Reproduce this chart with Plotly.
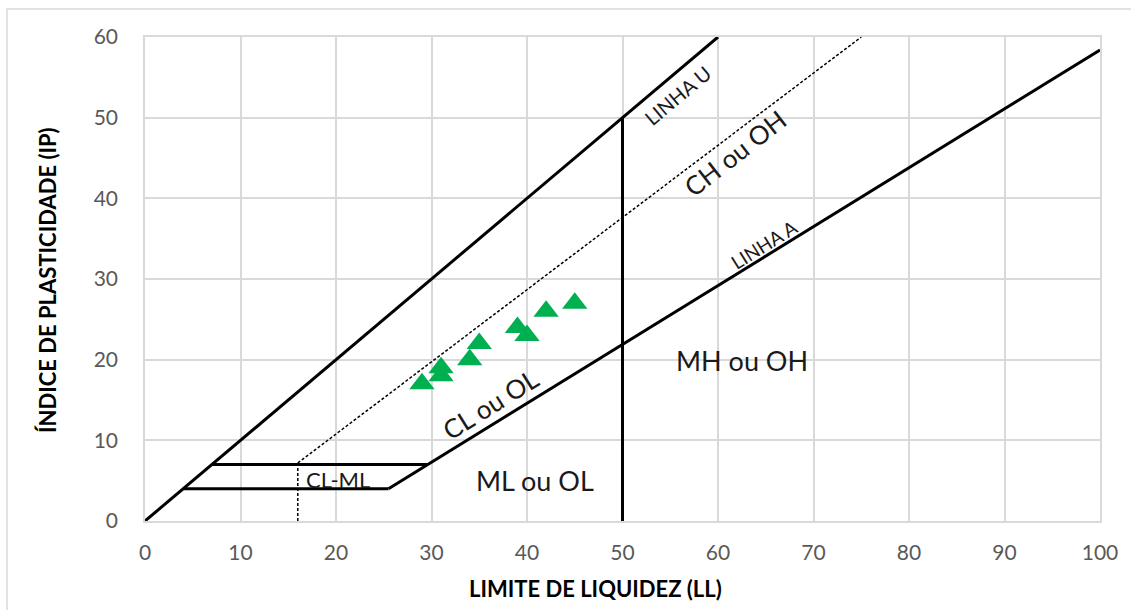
import plotly.graph_objects as go

# Soil samples: liquid limit (LL) and plasticity index (IP)
sample_ll = [29, 31, 31, 34, 35, 39, 40, 42, 45]
sample_ip = [17, 18, 19, 20, 22, 24, 23, 26, 27]

# Boundary lines of the plasticity chart
upper_x, upper_y = [0, 60], [0, 60]
u_line_x, u_line_y = [16, 75], [7.2, 60]
u_stub_x, u_stub_y = [16, 16], [0, 7.2]
a_line_x, a_line_y = [25.5, 100], [4, 58.4]
band_top_x, band_top_y = [7, 29.6], [7, 7]
band_bot_x, band_bot_y = [4, 25.5], [4, 4]
ll50_x, ll50_y = [50, 50], [0, 50]

x_ticks = [0, 10, 20, 30, 40, 50, 60, 70, 80, 90, 100]
y_ticks = [0, 10, 20, 30, 40, 50, 60]

W, H = 1131, 610
ML, MR, MT, MB = 145, 31, 37, 89
PW, PH = W - ML - MR, H - MT - MB

def px(x):
    return (x - ML) / PW

def py(y):
    return (H - MB - y) / PH

FONT = "Lato, 'Open Sans', 'Liberation Sans', sans-serif"

fig = go.Figure()

solid = dict(color="black", width=3)
for xs, ys in [(upper_x, upper_y), (a_line_x, a_line_y), (band_top_x, band_top_y),
               (band_bot_x, band_bot_y), (ll50_x, ll50_y)]:
    fig.add_trace(go.Scatter(x=xs, y=ys, mode="lines", line=solid,
                             hoverinfo="skip", showlegend=False))

dashed = dict(color="black", width=1.5, dash="3px,2px")
for xs, ys in [(u_line_x, u_line_y), (u_stub_x, u_stub_y)]:
    fig.add_trace(go.Scatter(x=xs, y=ys, mode="lines", line=dashed,
                             hoverinfo="skip", showlegend=False))

fig.add_trace(go.Scatter(
    x=sample_ll, y=sample_ip, mode="markers",
    marker=dict(symbol="triangle-up", size=22, color="#00B050"),
    showlegend=False,
))

labels = [
    ("LINHA U", 55.8, 52.8, -40, 20),
    ("CH ou OH", 61.8, 45.6, -38, 26),
    ("LINHA A", 64.8, 34.3, -32, 19),
    ("MH ou OH", 62.5, 19.9, 0, 27),
    ("CL ou OL", 36.2, 14.5, -32, 26),
    ("ML ou OL", 40.8, 5.0, 0, 27),
    ("CL-ML", 20.2, 5.2, 0, 22),
]
for text, x, y, ang, size in labels:
    fig.add_annotation(x=x, y=y, text=text, showarrow=False, textangle=ang,
                       font=dict(family=FONT, size=size, color="#1a1a1a"),
                       xanchor="center", yanchor="middle")

fig.add_annotation(x=px(595), y=py(588), xref="paper", yref="paper",
                   xanchor="center", yanchor="middle",
                   text="<b>LIMITE DE LIQUIDEZ (LL)</b>", showarrow=False,
                   font=dict(family=FONT, size=22, color="black"))
fig.add_annotation(x=px(47), y=py(280), xref="paper", yref="paper",
                   xanchor="center", yanchor="middle",
                   text="<b>ÍNDICE DE PLASTICIDADE (IP)</b>", showarrow=False,
                   textangle=-90,
                   font=dict(family=FONT, size=22, color="black"))

# Outer frame of the chart area
fig.add_shape(type="rect", xref="paper", yref="paper",
              x0=px(7), x1=px(1140), y0=py(620), y1=py(9),
              line=dict(color="#d9d9d9", width=1.5), layer="below")

axis_common = dict(
    showgrid=True, gridcolor="#d9d9d9", gridwidth=1.5,
    showline=True, linecolor="#d9d9d9", linewidth=1.5, mirror=True,
    zeroline=False, ticks="",
    tickfont=dict(family=FONT, size=21, color="#595959"),
)

fig.update_layout(
    width=W, height=H,
    margin=dict(l=ML, r=MR, t=MT, b=MB),
    paper_bgcolor="white", plot_bgcolor="white",
    xaxis=dict(range=[0, 100], tickvals=x_ticks, ticklabelstandoff=12, **axis_common),
    yaxis=dict(range=[0, 60], tickvals=y_ticks, ticklabelstandoff=21, **axis_common),
)

fig.write_html("out.html")
